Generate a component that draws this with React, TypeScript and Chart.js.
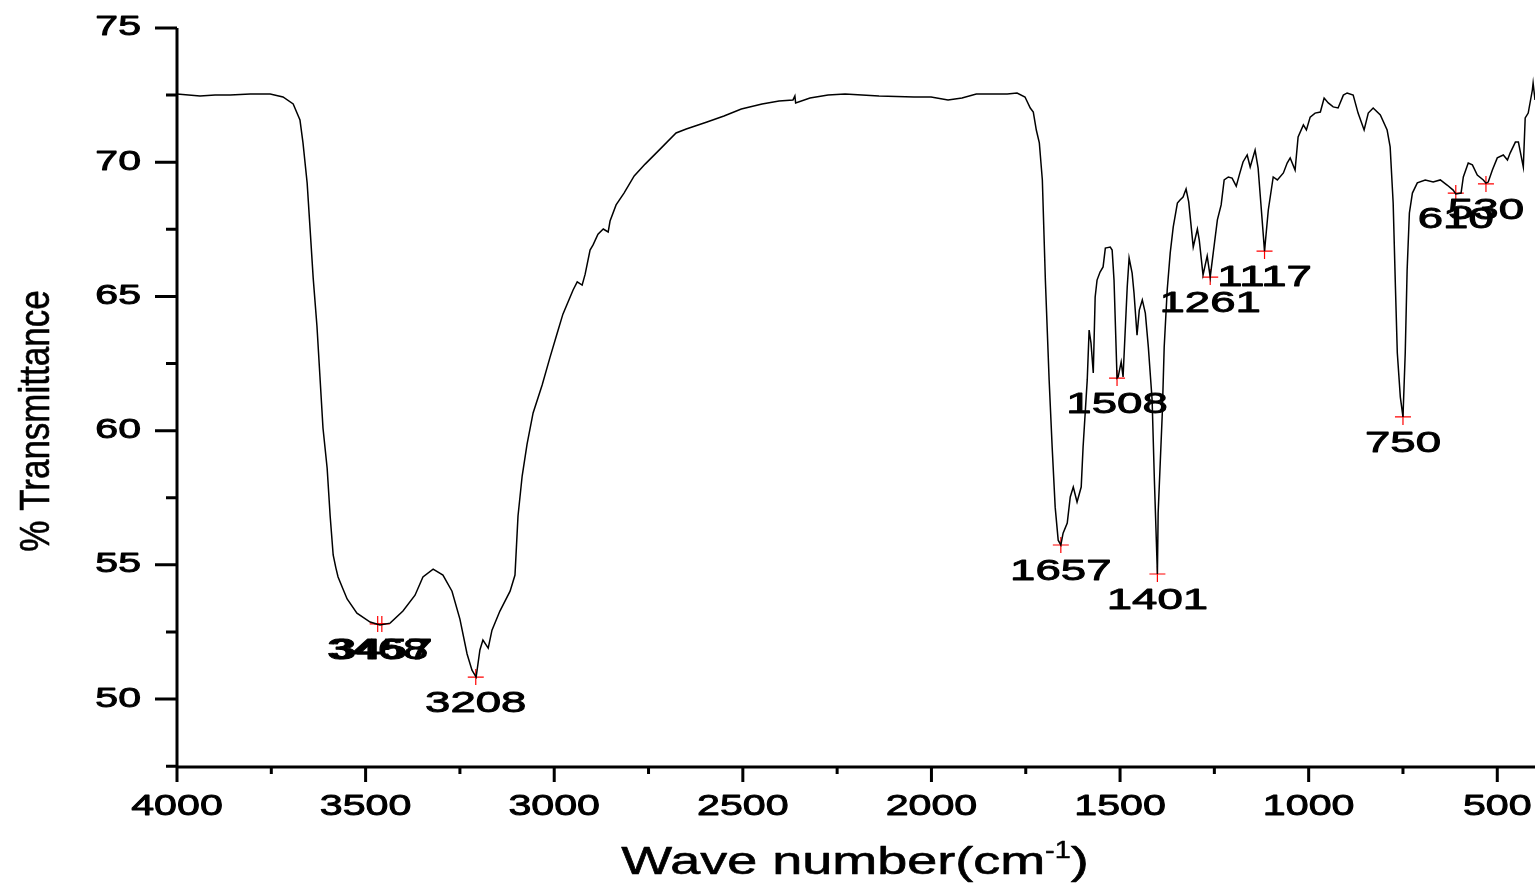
import React, { useEffect, useRef } from "react";
import { Chart, registerables } from "chart.js";

Chart.register(...registerables);

// Spectrum: wavenumber (cm-1) and % transmittance
const wavenumbers = [
  4000, 3939, 3899, 3859, 3806, 3753, 3719, 3692, 3674, 3666, 3655, 3647, 3639, 3629, 3621, 3613, 3602, 3594, 3586, 3579, 3573,
  3560, 3549, 3523, 3488, 3462, 3435, 3401, 3369, 3348, 3321, 3295, 3271, 3250, 3231, 3218, 3207, 3197, 3189, 3175, 3165, 3144,
  3117, 3104, 3096, 3085, 3072, 3056, 3032, 3011, 2992, 2977, 2950, 2939, 2926, 2918, 2905, 2897, 2884, 2870, 2857, 2852,
  2836, 2815, 2788, 2759, 2722, 2677, 2650, 2595, 2550, 2504, 2449, 2404, 2367, 2362, 2360, 2322, 2274, 2229, 2139, 2046,
  2001, 1956, 1919, 1881, 1799, 1773, 1752, 1738, 1730, 1722, 1714, 1706, 1698, 1688, 1680, 1672, 1664, 1657, 1651, 1640,
  1632, 1624, 1614, 1603, 1598, 1587, 1582, 1577, 1571, 1566, 1561, 1553, 1545, 1539, 1526, 1521, 1516, 1508, 1505, 1497,
  1492, 1481, 1476, 1468, 1463, 1455, 1449, 1441, 1433, 1425, 1415, 1409, 1401, 1399, 1388, 1383, 1375, 1367, 1359, 1348,
  1341, 1333, 1325, 1318, 1306, 1295, 1290, 1280, 1269, 1261, 1253, 1242, 1232, 1224, 1213, 1203, 1192, 1184, 1174, 1163,
  1155, 1142, 1134, 1126, 1117, 1107, 1094, 1083, 1067, 1057, 1049, 1036, 1028, 1014, 1006, 996, 983, 969, 959, 948,
  935, 922, 908, 898, 882, 869, 853, 842, 829, 810, 792, 784, 776, 770, 765, 757, 750, 744, 739, 733,
  725, 712, 691, 670, 651, 633, 617, 610, 596, 590, 577, 566, 553, 537, 530, 524, 513, 500, 484, 473,
  466, 452, 444, 431, 426, 418, 407, 405, 400,
];
const transmittance = [
  72.54, 72.47, 72.5, 72.5, 72.54, 72.54, 72.43, 72.17, 71.57, 70.72, 69.23, 67.47, 65.69, 63.9, 62.0, 60.1, 58.61, 56.82, 55.37, 54.9, 54.55,
  54.1, 53.73, 53.2, 52.87, 52.76, 52.83, 53.28, 53.87, 54.55, 54.84, 54.62, 54.02, 52.98, 51.68, 51.08, 50.82, 51.83, 52.2, 51.9, 52.57, 53.28,
  54.02, 54.62, 56.82, 58.31, 59.5, 60.66, 61.7, 62.74, 63.64, 64.34, 65.24, 65.54, 65.42, 65.83, 66.73, 66.92, 67.32, 67.51, 67.4, 67.81,
  68.41, 68.85, 69.49, 69.93, 70.45, 71.09, 71.24, 71.5, 71.72, 71.98, 72.17, 72.28, 72.32, 72.47, 72.21, 72.39, 72.5, 72.54, 72.47, 72.43,
  72.43, 72.32, 72.39, 72.54, 72.54, 72.58, 72.43, 72.02, 71.87, 71.2, 70.72, 69.34, 65.61, 61.89, 59.39, 57.15, 55.92, 55.74, 56.18, 56.56,
  57.53, 57.9, 57.34, 57.9, 59.39, 61.89, 63.75, 63.26, 62.15, 64.98, 65.61, 65.91, 66.1, 66.8, 66.84, 66.73, 65.61, 61.96, 62.0, 62.56,
  62.0, 65.35, 66.43, 65.87, 65.13, 63.56, 64.49, 64.87, 64.38, 63.11, 61.14, 58.16, 54.66, 56.93, 60.66, 63.11, 65.24, 66.62, 67.59, 68.48,
  68.59, 68.7, 69.0, 68.52, 66.84, 67.51, 67.1, 65.8, 66.51, 65.72, 66.62, 67.85, 68.41, 69.34, 69.45, 69.41, 69.11, 69.52, 70.01, 70.27,
  69.82, 70.45, 69.78, 68.33, 66.69, 68.22, 69.45, 69.34, 69.6, 69.97, 70.16, 69.71, 70.94, 71.39, 71.2, 71.68, 71.83, 71.87, 72.39, 72.21,
  72.06, 72.02, 72.5, 72.58, 72.5, 71.83, 71.2, 71.83, 72.02, 71.76, 71.2, 70.57, 68.48, 65.35, 62.89, 61.25, 60.51, 62.89, 65.98, 68.11,
  68.85, 69.23, 69.34, 69.26, 69.34, 69.15, 68.96, 68.82, 68.85, 69.45, 69.97, 69.9, 69.52, 69.34, 69.22, 69.26, 69.71, 70.16, 70.27, 70.08,
  70.34, 70.75, 70.75, 69.82, 71.65, 71.83, 72.69, 72.95, 72.32,
];

// Marked peaks
const peakLabels = ["3468", "3457", "3208", "1657", "1508", "1401", "1261", "1117", "750", "610", "530"];
const peakWavenumbers = [3468, 3457, 3208, 1657, 1508, 1401, 1261, 1117, 750, 610, 530];
const peakTransmittance = [52.8, 52.8, 50.82, 55.74, 61.96, 54.66, 65.72, 66.69, 60.51, 68.85, 69.19];

// Axes
const xMajorTicks = [4000, 3500, 3000, 2500, 2000, 1500, 1000, 500];
const xMinorTicks = [3750, 3250, 2750, 2250, 1750, 1250, 750];
const yMajorTicks = [75, 70, 65, 60, 55, 50];
const yMinorTicks = [72.5, 67.5, 62.5, 57.5, 52.5, 47.5];
const xTitle = "Wave number(cm";
const xTitleSup = "-1";
const yTitle = "% Transmittance";

const FONT = '"Liberation Sans", Arial, Helvetica, sans-serif';

function stretchText(
  ctx: CanvasRenderingContext2D,
  text: string,
  x: number,
  y: number,
  size: number,
  sx: number,
  align: CanvasTextAlign,
  sy = 1,
  heavy = 0.9
) {
  ctx.save();
  ctx.font = `${size}px ${FONT}`;
  ctx.textBaseline = "middle";
  ctx.textAlign = align;
  ctx.translate(x, y);
  ctx.scale(sx, sy);
  ctx.fillStyle = "#000";
  ctx.strokeStyle = "#000";
  ctx.lineWidth = heavy;
  ctx.lineJoin = "round";
  ctx.fillText(text, 0, 0);
  if (heavy > 0) ctx.strokeText(text, 0, 0);
  ctx.restore();
}

const decorPlugin = {
  id: "decor",
  afterDatasetsDraw(chart: any) {
    const ctx: CanvasRenderingContext2D = chart.ctx;
    const xs = chart.scales.x;
    const ys = chart.scales.y;
    const a = chart.chartArea;
    ctx.save();
    ctx.strokeStyle = "#000";
    ctx.fillStyle = "#000";
    ctx.lineWidth = 3;
    ctx.beginPath();
    ctx.moveTo(a.left, a.top);
    ctx.lineTo(a.left, a.bottom + 1.5);
    ctx.moveTo(a.left, a.bottom);
    ctx.lineTo(a.right, a.bottom);
    for (const v of xMajorTicks) {
      const px = xs.getPixelForValue(v);
      ctx.moveTo(px, a.bottom);
      ctx.lineTo(px, a.bottom + 15);
    }
    for (const v of xMinorTicks) {
      const px = xs.getPixelForValue(v);
      ctx.moveTo(px, a.bottom);
      ctx.lineTo(px, a.bottom + 7);
    }
    for (const v of yMajorTicks) {
      const py = ys.getPixelForValue(v);
      ctx.moveTo(a.left, py);
      ctx.lineTo(a.left - 22, py);
    }
    for (const v of yMinorTicks) {
      const py = ys.getPixelForValue(v);
      ctx.moveTo(a.left, py);
      ctx.lineTo(a.left - 11, py);
    }
    ctx.stroke();

    // tick labels
    for (const v of xMajorTicks) {
      stretchText(ctx, String(v), xs.getPixelForValue(v), a.bottom + 40, 29, 1.42, "center");
    }
    for (const v of yMajorTicks) {
      stretchText(ctx, String(v), a.left - 36, ys.getPixelForValue(v), 27, 1.52, "right");
    }

    // peak labels
    peakLabels.forEach((lab, i) => {
      const px = xs.getPixelForValue(peakWavenumbers[i]);
      const py = ys.getPixelForValue(peakTransmittance[i]);
      stretchText(ctx, lab, px, py + 27, 30, 1.52, "center");
    });

    // x title with superscript
    ctx.save();
    const fs = 38;
    const sx = 1.42;
    ctx.font = `${fs}px ${FONT}`;
    const w1 = ctx.measureText(xTitle).width * sx;
    ctx.font = `24px ${FONT}`;
    const w2 = ctx.measureText(xTitleSup).width * 1.2;
    ctx.font = `${fs}px ${FONT}`;
    const w3 = ctx.measureText(")").width * sx;
    const total = w1 + w2 + w3;
    const x0 = 855 - total / 2;
    const ty = 864;
    stretchText(ctx, xTitle, x0, ty, fs, sx, "left", 1, 0.6);
    stretchText(ctx, xTitleSup, x0 + w1, ty - 13, 24, 1.2, "left", 1, 0.5);
    stretchText(ctx, ")", x0 + w1 + w2, ty, fs, sx, "left", 1, 0.6);
    ctx.restore();

    // y title rotated
    ctx.save();
    ctx.translate(37, 421);
    ctx.rotate(-Math.PI / 2);
    stretchText(ctx, yTitle, 0, 0, 34, 1.03, "center", 1.25, 0.5);
    ctx.restore();

    ctx.restore();
  },
};

export default function App() {
  const ref = useRef<HTMLCanvasElement | null>(null);
  useEffect(() => {
    if (!ref.current) return;
    const spectrum = wavenumbers.map((w, i) => ({ x: w, y: transmittance[i] }));
    const peaks = peakWavenumbers.map((w, i) => ({ x: w, y: peakTransmittance[i] }));
    const chart = new Chart(ref.current, {
      type: "line",
      data: {
        datasets: [
          {
            data: spectrum,
            borderColor: "#000",
            borderWidth: 1.5,
            pointRadius: 0,
            tension: 0,
            fill: false,
          },
          {
            data: peaks,
            showLine: false,
            pointStyle: "cross",
            pointRadius: 8,
            pointBorderColor: "#ff0000",
            pointBorderWidth: 1.2,
            borderColor: "#ff0000",
          },
        ],
      },
      options: {
        responsive: false,
        animation: false,
        devicePixelRatio: 1,
        layout: { autoPadding: false, padding: { left: 0, right: 4, top: 28, bottom: 0 } },
        plugins: { legend: { display: false }, tooltip: { enabled: false } },
        scales: {
          x: {
            type: "linear",
            min: 400,
            max: 4000,
            reverse: true,
            grid: { display: false },
            border: { display: false },
            ticks: { display: false },
            afterFit: (s: any) => {
              s.height = 122;
            },
          },
          y: {
            type: "linear",
            min: 47.47,
            max: 75,
            grid: { display: false },
            border: { display: false },
            ticks: { display: false },
            afterFit: (s: any) => {
              s.width = 177;
            },
          },
        },
      },
      plugins: [decorPlugin],
    } as any);
    return () => chart.destroy();
  }, []);
  return (
    <div style={{ position: "fixed", left: 0, top: 0, width: 1539, height: 889, background: "#fff" }}>
      <canvas ref={ref} width={1539} height={889} style={{ display: "block" }} />
    </div>
  );
}
